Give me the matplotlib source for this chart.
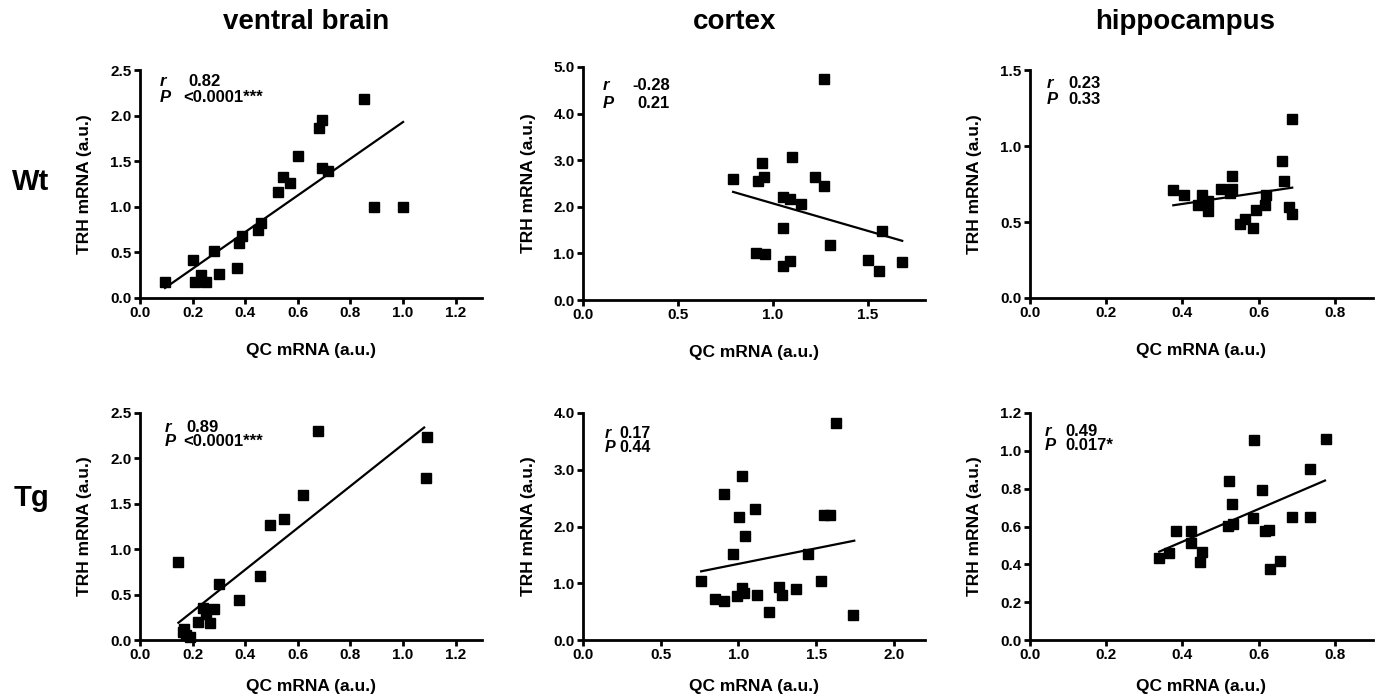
import matplotlib
matplotlib.use("Agg")
import matplotlib.pyplot as plt

plt.rcParams['font.family'] = ['Liberation Sans', 'DejaVu Sans']
plt.rcParams['font.weight'] = 'bold'

W, H = 1378, 697

# ventral brain, Wt
vb_wt_x = [0.095, 0.20, 0.21, 0.23, 0.25, 0.28, 0.30, 0.37, 0.376, 0.386, 0.45, 0.46,
           0.525, 0.545, 0.57, 0.60, 0.68, 0.69, 0.69, 0.715, 0.85, 0.89, 1.00]
vb_wt_y = [0.17, 0.42, 0.18, 0.25, 0.18, 0.52, 0.26, 0.33, 0.60, 0.68, 0.75, 0.82,
           1.16, 1.33, 1.26, 1.56, 1.86, 1.95, 1.42, 1.39, 2.18, 1.00, 1.00]
vb_wt_fit_x = [0.095, 1.00]
vb_wt_fit_y = [0.11, 1.93]

# cortex, Wt
cx_wt_x = [0.79, 0.92, 0.94, 0.95, 0.91, 0.96, 1.05, 1.09, 1.05, 1.05, 1.09, 1.10,
           1.15, 1.22, 1.27, 1.27, 1.30, 1.50, 1.56, 1.575, 1.68]
cx_wt_y = [2.59, 2.56, 2.93, 2.64, 1.00, 0.98, 2.21, 2.16, 1.54, 0.73, 0.84, 3.07,
           2.07, 2.64, 2.44, 4.74, 1.18, 0.86, 0.62, 1.49, 0.82]
cx_wt_fit_x = [0.79, 1.68]
cx_wt_fit_y = [2.32, 1.27]

# hippocampus, Wt
hc_wt_x = [0.376, 0.405, 0.45, 0.44, 0.466, 0.466, 0.50, 0.53, 0.53, 0.525, 0.55,
           0.563, 0.585, 0.594, 0.616, 0.618, 0.66, 0.666, 0.68, 0.688, 0.688]
hc_wt_y = [0.71, 0.68, 0.68, 0.61, 0.57, 0.635, 0.72, 0.72, 0.805, 0.69, 0.49,
           0.52, 0.46, 0.58, 0.61, 0.68, 0.90, 0.77, 0.60, 0.55, 1.175]
hc_wt_fit_x = [0.376, 0.688]
hc_wt_fit_y = [0.61, 0.726]

# ventral brain, Tg
vb_tg_x = [0.146, 0.165, 0.167, 0.175, 0.19, 0.22, 0.24, 0.25, 0.266, 0.28, 0.30,
           0.376, 0.456, 0.494, 0.548, 0.62, 0.677, 1.09, 1.086]
vb_tg_y = [0.86, 0.09, 0.12, 0.055, 0.037, 0.20, 0.35, 0.29, 0.19, 0.34, 0.615,
           0.44, 0.71, 1.27, 1.33, 1.60, 2.30, 2.235, 1.78]
vb_tg_fit_x = [0.146, 1.08]
vb_tg_fit_y = [0.19, 2.34]

# cortex, Tg
cx_tg_x = [0.756, 0.85, 0.91, 0.91, 0.966, 0.99, 1.004, 1.02, 1.02, 1.036, 1.045,
           1.105, 1.12, 1.195, 1.26, 1.28, 1.37, 1.45, 1.53, 1.553, 1.59, 1.63, 1.74]
cx_tg_y = [1.04, 0.73, 0.69, 2.57, 1.51, 0.77, 2.16, 2.89, 0.91, 0.82, 1.83,
           2.30, 0.79, 0.49, 0.93, 0.80, 0.89, 1.51, 1.04, 2.20, 2.21, 3.82, 0.44]
cx_tg_fit_x = [0.76, 1.745]
cx_tg_fit_y = [1.21, 1.75]

# hippocampus, Tg
hc_tg_x = [0.339, 0.365, 0.384, 0.422, 0.422, 0.446, 0.45, 0.523, 0.53, 0.52, 0.532,
           0.585, 0.587, 0.609, 0.616, 0.627, 0.629, 0.655, 0.688, 0.734, 0.734, 0.776]
hc_tg_y = [0.432, 0.462, 0.577, 0.577, 0.515, 0.41, 0.466, 0.843, 0.72, 0.603, 0.612,
           0.644, 1.055, 0.794, 0.577, 0.582, 0.376, 0.418, 0.649, 0.652, 0.905, 1.063]
hc_tg_fit_x = [0.339, 0.774]
hc_tg_fit_y = [0.467, 0.843]

col_titles = ['ventral brain', 'cortex', 'hippocampus']
row_titles = ['Wt', 'Tg']

panels = [
    # data, fit, r, P, xlim, xticks, ylim, yticks, box (l, r, top, bottom px), text offsets
    dict(x=vb_wt_x, y=vb_wt_y, fx=vb_wt_fit_x, fy=vb_wt_fit_y, r='0.82', p='<0.0001***',
         xlim=1.3, xt=[0, 0.2, 0.4, 0.6, 0.8, 1.0, 1.2], ylim=2.5, yt=[0, 0.5, 1.0, 1.5, 2.0, 2.5],
         box=(140, 482, 70, 298), tx=(20, 48, 43), ty=(12, 28)),
    dict(x=cx_wt_x, y=cx_wt_y, fx=cx_wt_fit_x, fy=cx_wt_fit_y, r='-0.28', p='0.21',
         xlim=1.8, xt=[0, 0.5, 1.0, 1.5], ylim=5.0, yt=[0, 1, 2, 3, 4, 5],
         box=(583, 925, 67, 300), tx=(20, 49, 54), ty=(19, 36)),
    dict(x=hc_wt_x, y=hc_wt_y, fx=hc_wt_fit_x, fy=hc_wt_fit_y, r='0.23', p='0.33',
         xlim=0.9, xt=[0, 0.2, 0.4, 0.6, 0.8], ylim=1.5, yt=[0, 0.5, 1.0, 1.5],
         box=(1030, 1373, 70, 298), tx=(17, 38, 38), ty=(13, 29)),
    dict(x=vb_tg_x, y=vb_tg_y, fx=vb_tg_fit_x, fy=vb_tg_fit_y, r='0.89', p='<0.0001***',
         xlim=1.3, xt=[0, 0.2, 0.4, 0.6, 0.8, 1.0, 1.2], ylim=2.5, yt=[0, 0.5, 1.0, 1.5, 2.0, 2.5],
         box=(140, 482, 413, 640), tx=(25, 46, 43), ty=(14, 29)),
    dict(x=cx_tg_x, y=cx_tg_y, fx=cx_tg_fit_x, fy=cx_tg_fit_y, r='0.17', p='0.44',
         xlim=2.2, xt=[0, 0.5, 1.0, 1.5, 2.0], ylim=4.0, yt=[0, 1, 2, 3, 4],
         box=(583, 925, 413, 640), tx=(22, 36, 36), ty=(20, 34)),
    dict(x=hc_tg_x, y=hc_tg_y, fx=hc_tg_fit_x, fy=hc_tg_fit_y, r='0.49', p='0.017*',
         xlim=0.9, xt=[0, 0.2, 0.4, 0.6, 0.8], ylim=1.2, yt=[0, 0.2, 0.4, 0.6, 0.8, 1.0, 1.2],
         box=(1030, 1373, 413, 640), tx=(15, 35, 35), ty=(18, 33)),
]

fig = plt.figure(figsize=(W / 100, H / 100), dpi=100)

for i, p in enumerate(panels):
    l, r, t, b = p['box']
    ax = fig.add_axes([l / W, 1 - b / H, (r - l) / W, (b - t) / H])
    ax.plot(p['x'], p['y'], 's', color='black', ms=7.5, clip_on=False, zorder=3)
    ax.plot(p['fx'], p['fy'], '-', color='black', lw=1.6)
    ax.set_xlim(0, p['xlim'])
    ax.set_ylim(0, p['ylim'])
    ax.set_xticks(p['xt'])
    ax.set_yticks(p['yt'])
    ax.set_xticklabels(['%.1f' % v for v in p['xt']])
    ax.set_yticklabels(['%.1f' % v for v in p['yt']])
    for s in ['top', 'right']:
        ax.spines[s].set_visible(False)
    for s in ['left', 'bottom']:
        ax.spines[s].set_linewidth(2.0)
    ax.tick_params(width=2.0, length=4, labelsize=11, pad=2)
    for lab in ax.get_xticklabels() + ax.get_yticklabels():
        lab.set_fontweight('bold')

    # r / P annotations
    dx_l, dx_r, dx_p = p['tx']
    dy_r, dy_p = p['ty']
    fs = 12 if i != 4 else 11.5
    ax.annotate('r', xy=(0, 1), xycoords='axes fraction', xytext=(dx_l, -dy_r),
                textcoords='offset pixels', va='center', ha='left', fontsize=fs,
                style='italic', fontweight='bold')
    ax.annotate(p['r'], xy=(0, 1), xycoords='axes fraction', xytext=(dx_r, -dy_r),
                textcoords='offset pixels', va='center', ha='left', fontsize=fs,
                fontweight='bold')
    ax.annotate('P', xy=(0, 1), xycoords='axes fraction', xytext=(dx_l, -dy_p),
                textcoords='offset pixels', va='center', ha='left', fontsize=fs,
                style='italic', fontweight='bold')
    ax.annotate(p['p'], xy=(0, 1), xycoords='axes fraction', xytext=(dx_p, -dy_p),
                textcoords='offset pixels', va='center', ha='left', fontsize=fs,
                fontweight='bold')

    # axis labels
    xl_y = b + 53 if i < 3 else b + 47
    fig.text((l + r) / 2 / W, 1 - xl_y / H, 'QC mRNA (a.u.)', ha='center', va='center',
             fontsize=12.5, fontweight='bold')
    yl_x = l - 55
    fig.text(yl_x / W, 1 - (t + b) / 2 / H, 'TRH mRNA (a.u.)', ha='center', va='center',
             rotation=90, fontsize=12.5, fontweight='bold')

# column titles
for name, cx in zip(col_titles, [306, 735, 1185]):
    fig.text(cx / W, 1 - 22 / H, name, ha='center', va='center', fontsize=20,
             fontweight='bold')

# row titles
for name, cy in zip(row_titles, [182, 498]):
    fig.text(31 / W, 1 - cy / H, name, ha='center', va='center', fontsize=21,
             fontweight='bold')

fig.savefig('out.png', dpi=100)
